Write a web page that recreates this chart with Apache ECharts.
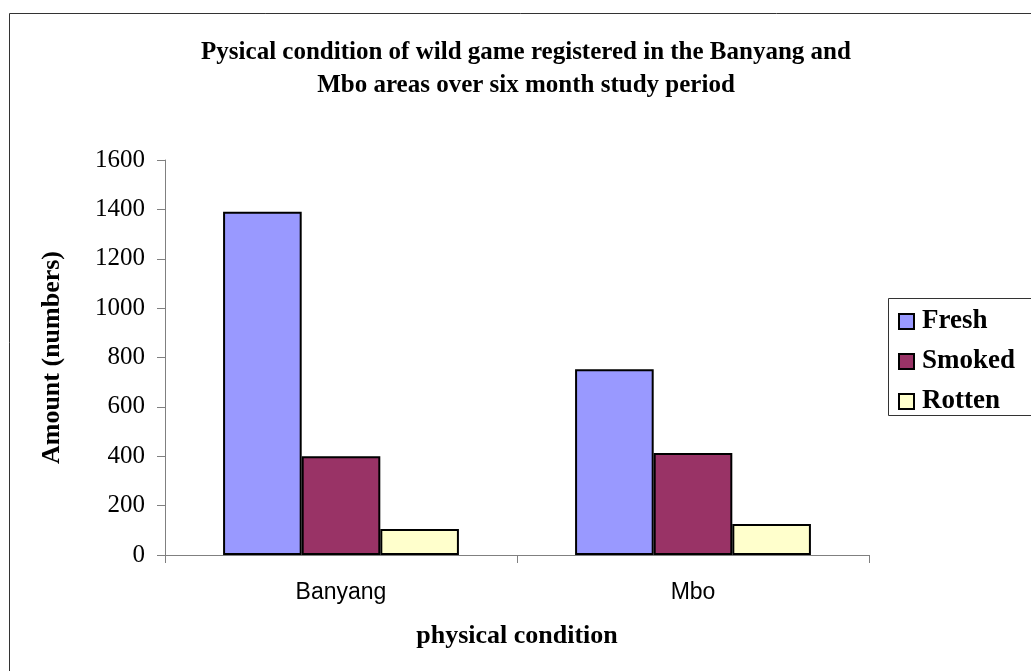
<!DOCTYPE html>
<html>
<head>
<meta charset="utf-8">
<script src="https://cdn.jsdelivr.net/npm/echarts@6/dist/echarts.min.js"></script>
<style>
html,body{margin:0;padding:0;background:#fff;}
#chart{width:1031px;height:671px;}
</style>
</head>
<body>
<div id="chart"></div>
<script>
var categories = ['Banyang', 'Mbo'];
var seriesNames = ['Fresh', 'Smoked', 'Rotten'];
var freshValues = [1390, 752];
var smokedValues = [400, 413];
var rottenValues = [105, 126];
var yTicks = { min: 0, max: 1600, interval: 200 };
var colors = ['#9999FF', '#993366', '#FFFFCC'];

var chart = echarts.init(document.getElementById('chart'));
var serif = 'Liberation Serif, Times New Roman, serif';
var sans = 'Liberation Sans, Arial, sans-serif';
var valuesList = [freshValues, smokedValues, rottenValues];

chart.setOption({
  animation: false,
  backgroundColor: '#fff',
  title: {
    text: 'Pysical condition of wild game registered in the Banyang and\nMbo areas over six month study period',
    left: 521,
    top: 31,
    textAlign: 'center',
    textStyle: { fontFamily: serif, fontWeight: 'bold', fontSize: 25, lineHeight: 33, color: '#000' }
  },
  graphic: [{
    type: 'rect',
    shape: { x: 9.5, y: 13.5, width: 1040, height: 680 },
    style: { fill: 'none', stroke: '#333', lineWidth: 1 },
    silent: true
  }, {
    type: 'rect',
    shape: { x: 888.5, y: 298.5, width: 160, height: 117 },
    style: { fill: 'none', stroke: '#333', lineWidth: 1 },
    silent: true
  }],
  legend: {
    orient: 'vertical',
    left: 898,
    top: 308,
    itemWidth: 15,
    itemHeight: 15,
    itemGap: 13,
    icon: 'rect',
    padding: 0,
    textStyle: { fontFamily: serif, fontWeight: 'bold', fontSize: 27, lineHeight: 26, color: '#000', padding: [0, 0, 0, 3] },
    data: seriesNames
  },
  grid: { left: 165, right: 162, top: 160, bottom: 116, containLabel: false },
  xAxis: {
    type: 'category',
    data: categories,
    name: 'physical condition',
    nameLocation: 'middle',
    nameGap: 68,
    nameTextStyle: { fontFamily: serif, fontWeight: 'bold', fontSize: 26, color: '#000' },
    axisLine: { lineStyle: { color: '#808080', width: 1 } },
    axisTick: { show: true, length: 8, lineStyle: { color: '#808080' } },
    axisLabel: { fontFamily: sans, fontSize: 23, color: '#000', margin: 26 }
  },
  yAxis: {
    type: 'value',
    min: yTicks.min,
    max: yTicks.max,
    interval: yTicks.interval,
    name: 'Amount (numbers)',
    nameLocation: 'middle',
    nameRotate: 90,
    nameGap: 100,
    nameTextStyle: { fontFamily: serif, fontWeight: 'bold', fontSize: 26, color: '#000' },
    axisLine: { show: true, lineStyle: { color: '#808080', width: 1 } },
    axisTick: { show: true, length: 8, lineStyle: { color: '#808080' } },
    splitLine: { show: false },
    axisLabel: { fontFamily: serif, fontSize: 25, color: '#000', margin: 20, formatter: function (v) { return String(v); } }
  },
  series: seriesNames.map(function (name, i) {
    return {
      name: name,
      type: 'bar',
      data: valuesList[i],
      barGap: '0%',
      barCategoryGap: '33%',
      itemStyle: { color: colors[i], borderColor: '#000', borderWidth: 2 }
    };
  })
});
</script>
</body>
</html>
